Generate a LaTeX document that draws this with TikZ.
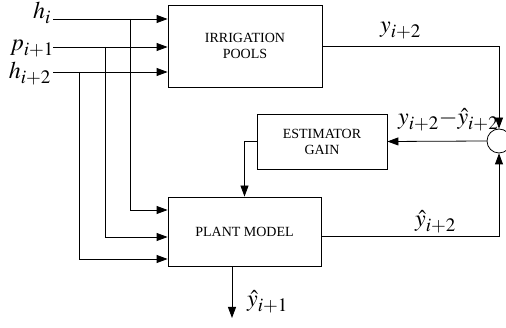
\documentclass[tikz,border=0pt]{standalone}
\usepackage{mathptmx}
\usepackage{fontspec}
\setmainfont{Liberation Serif}
\DeclareMathSizes{24}{24}{19}{15}
\usetikzlibrary{arrows.meta, positioning, calc}
\tikzset{
	blk/.style ={rectangle, draw=black, line width=0.8pt, align=center, inner sep=2pt, font=\fontsize{14}{16}\selectfont},
	sumj/.style={circle, draw=black, line width=0.8pt, minimum size=24pt, inner sep=0pt},
	sig/.style ={-{Triangle[length=11pt, width=8pt]}, line width=0.8pt},
	lbl/.style ={inner sep=0pt, font=\fontsize{24}{28}\selectfont},
}
\begin{document}
\begin{tikzpicture}[x=1pt, y=-1pt]
	\useasboundingbox (0,0) rectangle (506,328);
	% blocks
	\node[blk, minimum width=154pt, minimum height=82pt] (pools) at (245,46) {IRRIGATION\\POOLS};
	\node[blk, minimum width=130pt, minimum height=55pt] (gain) at (322,141.5) {ESTIMATOR\\GAIN};
	\node[blk, minimum width=153pt, minimum height=69pt] (plant) at (244.5,231.5) {PLANT MODEL};
	\node[sumj] (sum) at (499,141) {};
	% free ends
	\coordinate (hin) at (53,19);
	\coordinate (pin) at (53,47);
	\coordinate (hhin) at (53,72);
	\coordinate (yout) at (232,318);
	% labels
	\node[lbl, anchor=base east] (lhi) at (51,19) {$h_i$};
	\node[lbl, anchor=base east] (lpi) at (54,51) {$p_{i+1}$};
	\node[lbl, anchor=base east] (lhii) at (51,79) {$h_{i+2}$};
	\node[lbl, anchor=base west] (ly) at (380,33) {$y_{i+2}$};
	\node[lbl, anchor=base west] (lerr) at (398,125) {$y_{i+2}{-}\hat{y}_{i+2}$};
	\node[lbl, anchor=base west] (lyh) at (415,227) {$\hat{y}_{i+2}$};
	\node[lbl, anchor=base west] (lyo) at (247,307) {$\hat{y}_{i+1}$};
	% signals
	\draw[sig] (hin) -- (hin -| pools.west);
	\draw[sig] (pin) -- (pin -| pools.west);
	\draw[sig] (hhin) -- (hhin -| pools.west);
	\draw[sig] (hin -| 130,0) |- (plant.west |- 0,210);
	\draw[sig] (pin -| 105,0) |- (plant.west |- 0,237);
	\draw[sig] (hhin -| 79,0) |- (plant.west |- 0,259);
	\draw[sig] (pools.east) -| (sum.north);
	\draw[sig] (sum.west) -- (gain.east);
	\draw[sig] (gain.west) -| (plant.north);
	\draw[sig] (plant.east |- 0,236) -| (sum.south);
	\draw[sig] (plant.south -| yout) -- (yout);
\end{tikzpicture}
\end{document}
